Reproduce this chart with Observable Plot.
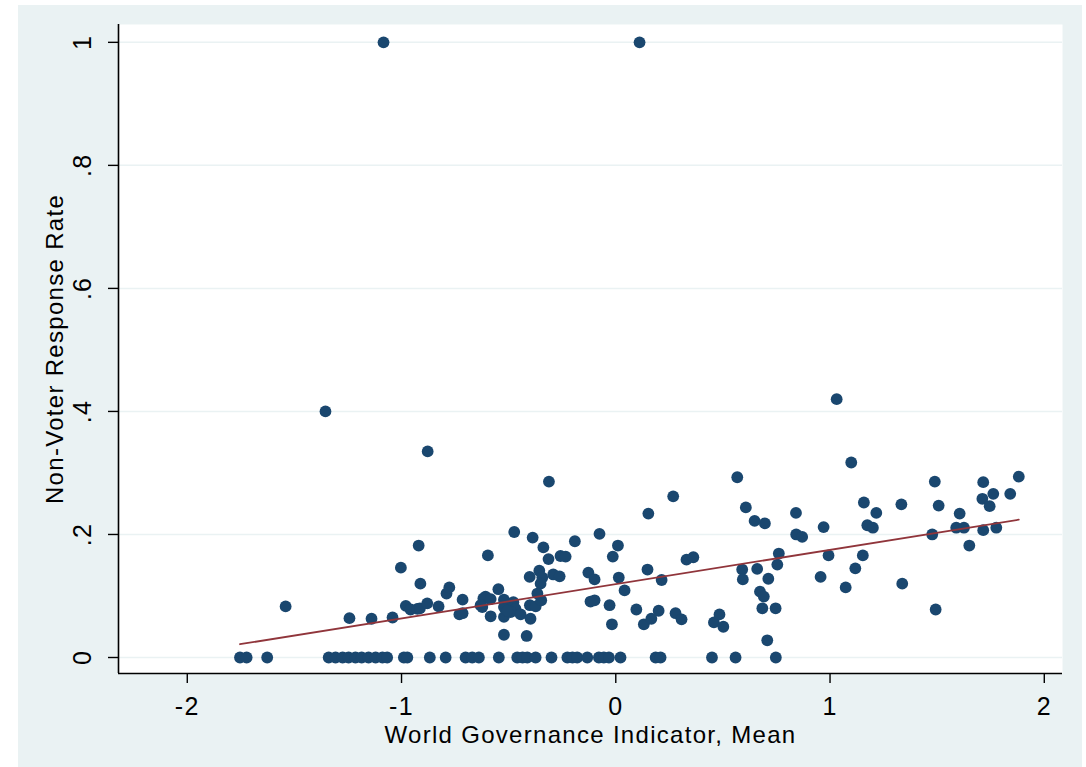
<!DOCTYPE html>
<html><head><meta charset="utf-8">
<script src="https://cdn.jsdelivr.net/npm/d3@7"></script>
<script src="https://cdn.jsdelivr.net/npm/@observablehq/plot@0.6"></script>
<style>
html,body{margin:0;padding:0;background:#fff;overflow:hidden;}
#bg{position:absolute;left:18px;top:5px;width:1064px;height:762px;background:#eaf2f3;}
#chart{position:absolute;left:0;top:0;}
#chart svg text{letter-spacing:1.3px;}
</style></head>
<body><div id="bg"></div><div id="chart"></div>
<script>
// World Governance Indicator (mean) per country
const wgiMean = [
  // rate = 0 row
  -1.754,-1.723,-1.627,-1.340,-1.308,-1.275,-1.247,-1.215,-1.186,-1.154,-1.121,-1.089,-1.067,-0.989,-0.973,-0.868,-0.794,-0.701,-0.670,-0.639,
  -0.546,-0.460,-0.435,-0.413,-0.374,-0.300,-0.226,-0.202,-0.180,-0.133,-0.079,-0.056,-0.032,0.022,0.186,0.209,0.449,0.559,0.747,
  // left group
  -1.541,-1.243,-1.140,-1.042,-1.003,-0.920,-0.912,-0.980,-0.958,-0.926,-0.914,-0.880,-0.827,-0.790,-0.777,-0.715,-0.730,-0.715,
  // outliers
  -1.084,0.111,-1.355,-0.878,1.031,
  // middle group
  -0.312,0.152,-0.474,-0.388,-0.338,-0.597,-0.314,-0.258,-0.234,-0.191,-0.076,0.010,-0.014,-0.357,-0.402,-0.343,-0.351,-0.292,-0.262,-0.128,
  -0.099,0.148,0.014,0.041,-0.548,-0.608,-0.618,-0.584,-0.631,-0.623,-0.584,-0.522,-0.522,-0.522,-0.478,-0.468,-0.491,-0.444,-0.506,-0.522,
  -0.416,-0.398,-0.401,-0.374,-0.348,-0.366,-0.118,-0.099,-0.029,-0.018,0.096,0.131,0.166,0.200,
  // right-middle group
  0.567,0.268,0.607,0.648,0.696,0.841,0.970,0.842,0.870,0.330,0.362,0.214,0.590,0.593,0.660,0.712,0.761,0.754,0.956,0.993,
  0.673,0.691,0.684,0.746,0.279,0.307,0.458,0.484,0.502,0.707,
  // right group
  1.099,1.489,1.715,1.881,1.762,1.711,1.745,1.841,1.158,1.216,1.333,1.507,1.605,1.174,1.200,1.477,1.589,1.625,1.715,1.776,
  1.650,1.153,1.118,1.073,1.337,1.493
];
// Non-voter response rate, same order
const nonVoterRate = [
  0,0,0,0,0,0,0,0,0,0,0,0,0,0,0,0,0,0,0,0,
  0,0,0,0,0,0,0,0,0,0,0,0,0,0,0,0,0,0,0,
  0.083,0.064,0.063,0.065,0.146,0.182,0.120,0.084,0.078,0.079,0.080,0.088,0.083,0.104,0.114,0.094,0.070,0.072,
  1.0,1.0,0.400,0.335,0.420,
  0.286,0.234,0.204,0.195,0.179,0.166,0.160,0.165,0.164,0.189,0.201,0.182,0.164,0.141,0.131,0.130,0.120,0.135,0.132,0.138,
  0.127,0.143,0.130,0.109,0.111,0.099,0.096,0.095,0.085,0.082,0.067,0.094,0.082,0.066,0.090,0.079,0.074,0.070,0.076,0.037,
  0.035,0.063,0.085,0.083,0.093,0.104,0.091,0.093,0.085,0.054,0.078,0.054,0.063,0.076,
  0.293,0.262,0.244,0.222,0.218,0.235,0.212,0.200,0.196,0.159,0.163,0.126,0.143,0.127,0.144,0.128,0.169,0.151,0.131,0.166,
  0.107,0.099,0.080,0.080,0.072,0.062,0.057,0.070,0.050,0.028,
  0.317,0.286,0.285,0.294,0.266,0.258,0.246,0.266,0.252,0.235,0.249,0.247,0.234,0.215,0.211,0.200,0.211,0.211,0.207,0.211,
  0.182,0.166,0.145,0.114,0.120,0.078
];
// Fitted values (linear fit) at the data's x extremes
const fitX = [-1.754, 1.881];
const fitY = [0.0216, 0.224];

const xTicks = [-2, -1, 0, 1, 2];
const xTickLabels = ["-2", "-1", "0", "1", "2"];
const yTicks = [0, 0.2, 0.4, 0.6, 0.8, 1];
const yTickLabels = ["0", ".2", ".4", ".6", ".8", "1"];
const xTitle = "World Governance Indicator, Mean";
const yTitle = "Non-Voter Response Rate";

const xDomain = [-2.321, 2.085];
const yDomain = [-0.026, 1.029];
const data = wgiMean.map((x, i) => ({x, y: nonVoterRate[i]}));
const fit = fitX.map((x, i) => ({x, y: fitY[i]}));

const chart = Plot.plot({
  width: 1086, height: 767,
  marginLeft: 118, marginRight: 24, marginTop: 24, marginBottom: 94,
  style: {background: "transparent", fontFamily: "'Liberation Sans', Arial, sans-serif", fontSize: "25px", color: "black", overflow: "visible"},
  x: {domain: xDomain},
  y: {domain: yDomain},
  marks: [
    Plot.frame({fill: "white", stroke: "none"}),
    Plot.gridY(yTicks, {stroke: "#eaf2f3", strokeOpacity: 1, strokeWidth: 1.5}),
    Plot.dot(data, {x: "x", y: "y", r: 5.9, fill: "#1a476f"}),
    Plot.line(fit, {x: "x", y: "y", stroke: "#90353b", strokeWidth: 1.8}),
    Plot.ruleX([xDomain[0]], {stroke: "black", strokeWidth: 1.6}),
    Plot.ruleY([yDomain[0]], {stroke: "black", strokeWidth: 1.6}),
    Plot.axisX(xTicks, {tickSize: 10, tickPadding: 14, strokeWidth: 1.4, label: null, fontSize: 25,
      tickFormat: d => xTickLabels[xTicks.indexOf(d)]}),
    Plot.axisY(yTicks, {tickSize: 10, tickPadding: 18, strokeWidth: 1.4, tickRotate: -90, label: null, fontSize: 25,
      tickFormat: d => yTickLabels[yTicks.indexOf(d)]}),
    Plot.text([xTitle], {frameAnchor: "bottom", dy: 62, fontSize: 24, lineAnchor: "middle", textAnchor: "middle", fill: "black"}),
    Plot.text([yTitle], {frameAnchor: "left", dx: -62.7, rotate: -90, fontSize: 24, lineAnchor: "middle", textAnchor: "middle", fill: "black"})
  ]
});
document.getElementById("chart").appendChild(chart);
</script>
</body></html>
